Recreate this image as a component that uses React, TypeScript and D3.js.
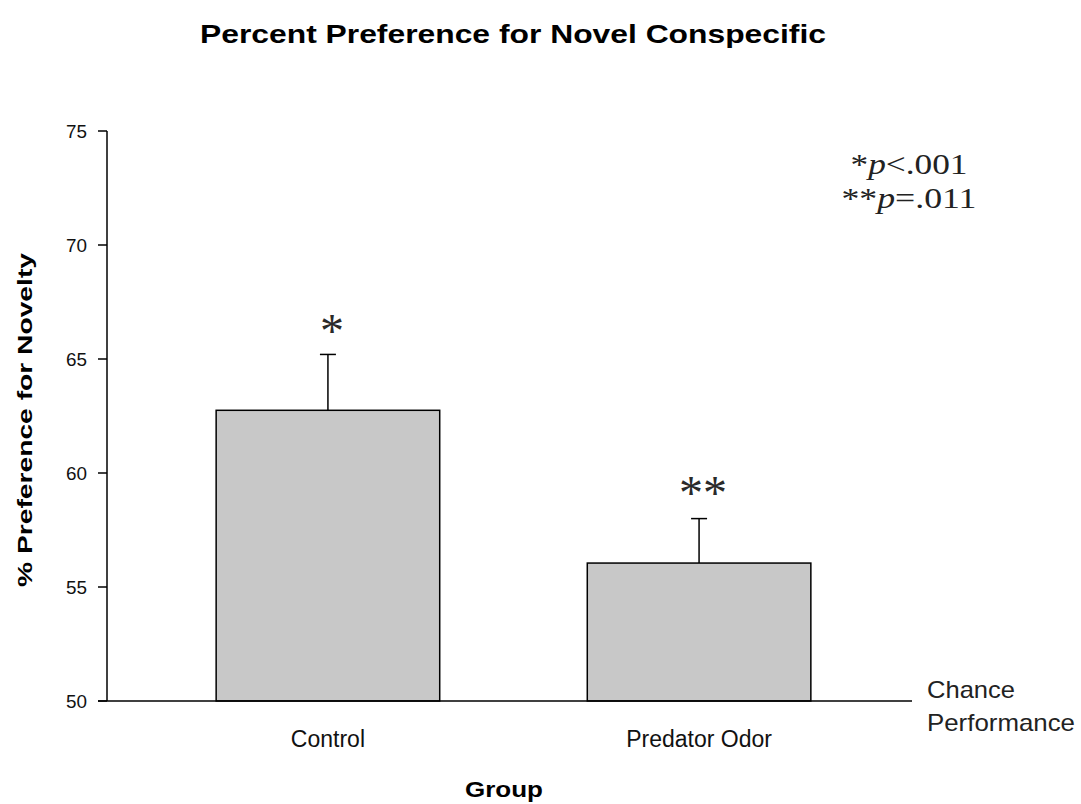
import React from "react";
import * as d3 from "d3";

const groups = ["Control", "Predator Odor"];
const means = [62.75, 56.05];
const errUpper = [65.2, 58.0];
const sigMarks = ["*", "**"];
const yTicks = [50, 55, 60, 65, 70, 75];
const titleText = "Percent Preference for Novel Conspecific";
const yLabel = "% Preference for Novelty";
const xLabel = "Group";
const pNotes = [
  { stars: "*", op: "<.001", len: 117 },
  { stars: "**", op: "=.011", len: 135 },
];

const W = 1081;
const H = 804;
const left = 107;
const right = 912;
const top = 131;
const bottom = 701;

export default function App() {
  const y = d3.scaleLinear().domain([50, 75]).range([bottom, top]);
  const x = d3
    .scaleBand<string>()
    .domain(groups)
    .range([110, 917])
    .paddingInner(0.3976)
    .paddingOuter(0.286);
  const bw = x.bandwidth();
  const sans = "'Liberation Sans', Arial, sans-serif";
  const serif = "'Liberation Serif', 'Times New Roman', serif";

  return (
    <svg
      width={W}
      height={H}
      style={{ position: "absolute", left: 0, top: 0, display: "block", background: "#fff" }}
    >
      <text
        x={513}
        y={43}
        textAnchor="middle"
        fontFamily={sans}
        fontWeight="bold"
        fontSize={26}
        textLength={626}
        lengthAdjust="spacingAndGlyphs"
      >
        {titleText}
      </text>

      {/* bars */}
      {groups.map((g, i) => {
        const cx = (x(g) as number) + bw / 2;
        return (
          <g key={g}>
            <line
              x1={cx}
              x2={cx}
              y1={y(means[i])}
              y2={y(errUpper[i])}
              stroke="#000"
              strokeWidth={1.5}
            />
            <line
              x1={cx - 8}
              x2={cx + 8}
              y1={y(errUpper[i])}
              y2={y(errUpper[i])}
              stroke="#000"
              strokeWidth={1.5}
            />
            <rect
              x={x(g)}
              y={y(means[i])}
              width={bw}
              height={y(50) - y(means[i])}
              fill="#c8c8c8"
              stroke="#000"
              strokeWidth={1.5}
            />
            <text
              x={cx + 4}
              y={y(errUpper[i]) - (i === 0 ? 7 : 10)}
              textAnchor="middle"
              fontFamily={serif}
              fontSize={48}
              fill="#2a2a2a"
            >
              {sigMarks[i]}
            </text>
            <text
              x={cx}
              y={747}
              textAnchor="middle"
              fontFamily={sans}
              fontSize={23}
              fill="#111"
            >
              {g}
            </text>
          </g>
        );
      })}

      {/* axes */}
      <line x1={left} x2={left} y1={top} y2={bottom} stroke="#000" strokeWidth={1.5} />
      <line x1={left - 9} x2={right} y1={bottom} y2={bottom} stroke="#000" strokeWidth={1.5} />
      {yTicks.map((t) => (
        <g key={t}>
          <line x1={left - 9} x2={left} y1={y(t)} y2={y(t)} stroke="#000" strokeWidth={1.5} />
          <text
            x={87}
            y={y(t) + 7}
            textAnchor="end"
            fontFamily={sans}
            fontSize={19}
            fill="#111"
            textLength={21}
            lengthAdjust="spacingAndGlyphs"
          >
            {t}
          </text>
        </g>
      ))}

      <text
        transform="translate(32,420) rotate(-90)"
        textAnchor="middle"
        fontFamily={sans}
        fontWeight="bold"
        fontSize={20}
        textLength={334}
        lengthAdjust="spacingAndGlyphs"
      >
        {yLabel}
      </text>

      <text
        x={504}
        y={797}
        textAnchor="middle"
        fontFamily={sans}
        fontWeight="bold"
        fontSize={22}
        textLength={78}
        lengthAdjust="spacingAndGlyphs"
      >
        {xLabel}
      </text>

      <text x={927} y={698} fontFamily={sans} fontSize={24} fill="#222" textLength={88} lengthAdjust="spacingAndGlyphs">
        Chance
      </text>
      <text x={927} y={731} fontFamily={sans} fontSize={24} fill="#222" textLength={148} lengthAdjust="spacingAndGlyphs">
        Performance
      </text>

      {pNotes.map((n, i) => (
        <text
          key={i}
          x={909 - n.len / 2}
          y={174 + i * 34}
          fontFamily={serif}
          fontSize={30}
          fill="#222"
          textLength={n.len}
          lengthAdjust="spacingAndGlyphs"
        >
          <tspan>{n.stars}</tspan>
          <tspan fontStyle="italic">p</tspan>
          <tspan>{n.op}</tspan>
        </text>
      ))}
    </svg>
  );
}
